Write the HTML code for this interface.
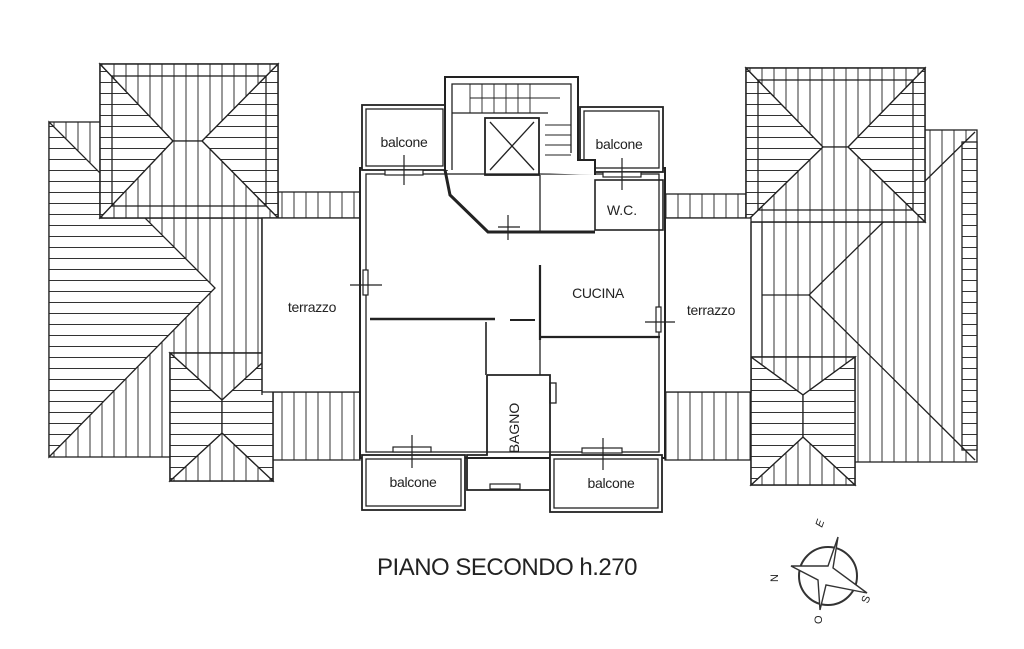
<!DOCTYPE html>
<html><head><meta charset="utf-8"><style>
html,body{margin:0;padding:0;background:#fff;}
svg{display:block}
text{font-family:"Liberation Sans",sans-serif;fill:#222}
</style></head><body>
<svg width="1024" height="649" viewBox="0 0 1024 649" xmlns="http://www.w3.org/2000/svg">
<defs>
<pattern id="h" width="20" height="11" patternUnits="userSpaceOnUse"><rect width="20" height="11" fill="#fff"/><line x1="0" y1="5.5" x2="20" y2="5.5" stroke="#333" stroke-width="1"/></pattern>
<pattern id="v" width="12" height="20" patternUnits="userSpaceOnUse"><rect width="12" height="20" fill="#fff"/><line x1="6" y1="0" x2="6" y2="20" stroke="#333" stroke-width="1"/></pattern>
</defs>
<g stroke="#222" stroke-width="1.3" fill="none">
<rect x="49" y="122" width="213" height="335" fill="url(#v)"/>
<polygon points="49,122 215,288 49,457" fill="url(#h)"/>
<rect x="278" y="192" width="82" height="26" fill="url(#v)"/>
<rect x="272" y="392" width="88" height="68" fill="url(#v)"/>
<rect x="100" y="64" width="178" height="154" fill="#fff"/>
<polygon points="100,64 173,141 100,218" fill="url(#h)"/>
<polygon points="278,64 202,141 278,218" fill="url(#h)"/>
<polygon points="100,64 278,64 202,141 173,141" fill="url(#v)"/>
<polygon points="100,218 278,218 202,141 173,141" fill="url(#v)"/>
<rect x="100" y="64" width="178" height="154"/>
<rect x="112" y="76" width="154" height="130"/>
<rect x="170" y="353" width="103" height="128" fill="#fff"/>
<polygon points="170,353 273,353 222,400" fill="url(#v)"/>
<polygon points="170,481 273,481 222,433" fill="url(#v)"/>
<polygon points="170,353 222,400 222,433 170,481" fill="url(#h)"/>
<polygon points="273,353 222,400 222,433 273,481" fill="url(#h)"/>
<rect x="170" y="353" width="103" height="128"/>
<rect x="762" y="130" width="215" height="332" fill="url(#v)"/>
<rect x="962" y="142" width="15" height="308" fill="url(#h)"/>
<polyline points="975,132 809,295 975,460"/>
<polyline points="762,295 809,295"/>
<rect x="665" y="194" width="81" height="24" fill="url(#v)"/>
<rect x="665" y="392" width="86" height="68" fill="url(#v)"/>
<rect x="746" y="68" width="179" height="154" fill="#fff"/>
<polygon points="746,68 823,147 746,222" fill="url(#h)"/>
<polygon points="925,68 848,147 925,222" fill="url(#h)"/>
<polygon points="746,68 925,68 848,147 823,147" fill="url(#v)"/>
<polygon points="746,222 925,222 848,147 823,147" fill="url(#v)"/>
<rect x="746" y="68" width="179" height="154"/>
<rect x="758" y="80" width="155" height="130"/>
<rect x="751" y="357" width="104" height="128" fill="#fff"/>
<polygon points="751,357 855,357 803,395" fill="url(#v)"/>
<polygon points="751,485 855,485 803,437" fill="url(#v)"/>
<polygon points="751,357 803,395 803,437 751,485" fill="url(#h)"/>
<polygon points="855,357 803,395 803,437 855,485" fill="url(#h)"/>
<rect x="751" y="357" width="104" height="128"/>
<rect x="262" y="218" width="98" height="174" fill="#fff"/>
<rect x="665" y="218" width="86" height="174" fill="#fff"/>
<line x1="262" y1="218" x2="262" y2="395"/>
<line x1="751" y1="222" x2="751" y2="392"/>

<rect x="360" y="168" width="305" height="290" fill="#fff" stroke-width="2"/>
<rect x="366" y="174" width="293" height="278"/>
<rect x="362" y="105" width="85" height="65" fill="#fff" stroke-width="1.8"/>
<rect x="366" y="109" width="77" height="57"/>
<rect x="580" y="107" width="83" height="65" fill="#fff" stroke-width="1.8"/>
<rect x="584" y="111" width="75" height="57"/>
<polyline points="445,170 445,77 578,77 578,160 595,160 595,175" fill="#fff" stroke-width="2"/>
<polyline points="452,170 452,84 571,84 571,153"/>
<line x1="452" y1="113" x2="548" y2="113"/>
<g stroke-width="0.9"><line x1="470" y1="84" x2="470" y2="113"/><line x1="482" y1="84" x2="482" y2="113"/><line x1="494" y1="84" x2="494" y2="113"/><line x1="506" y1="84" x2="506" y2="113"/><line x1="518" y1="84" x2="518" y2="113"/><line x1="530" y1="84" x2="530" y2="113"/>
<line x1="545" y1="125" x2="571" y2="125"/><line x1="545" y1="135" x2="571" y2="135"/><line x1="545" y1="145" x2="571" y2="145"/><line x1="545" y1="155" x2="571" y2="155"/><line x1="470" y1="98" x2="560" y2="98"/></g>
<rect x="485" y="118" width="54" height="57" stroke-width="1.8"/>
<line x1="490" y1="122" x2="534" y2="170"/><line x1="534" y1="122" x2="490" y2="170"/>
<polyline points="445,170 450,195 488,232 595,232" stroke-width="3"/>
<line x1="540" y1="175" x2="540" y2="232"/>
<rect x="595" y="180" width="68" height="50" stroke-width="1.6"/>
<line x1="540" y1="265" x2="540" y2="340" stroke-width="2.2"/>
<line x1="540" y1="337" x2="660" y2="337" stroke-width="2.2"/>
<line x1="540" y1="337" x2="540" y2="375"/>
<line x1="370" y1="319" x2="495" y2="319" stroke-width="2.5"/>
<line x1="486" y1="322" x2="486" y2="375" stroke-width="1.6"/>
<polyline points="487,375 550,375 550,490 467,490 467,455 487,455 487,375" stroke-width="1.8"/>
<rect x="550" y="383" width="6" height="20"/>
<rect x="362" y="455" width="103" height="55" fill="#fff" stroke-width="1.8"/>
<rect x="366" y="459" width="95" height="47"/>
<rect x="550" y="455" width="112" height="57" fill="#fff" stroke-width="1.8"/>
<rect x="554" y="459" width="104" height="49"/>
<g stroke-width="1.2">
<rect x="385" y="170" width="38" height="5" fill="#fff"/><line x1="404" y1="155" x2="404" y2="185"/>
<rect x="603" y="172" width="38" height="5" fill="#fff"/><line x1="622" y1="158" x2="622" y2="190"/>
<rect x="393" y="447" width="38" height="5" fill="#fff"/><line x1="412" y1="435" x2="412" y2="468"/>
<rect x="582" y="448" width="40" height="5" fill="#fff"/><line x1="603" y1="438" x2="603" y2="470"/>
<rect x="490" y="484" width="30" height="5" fill="#fff"/>
<rect x="363" y="270" width="5" height="25" fill="#fff"/><line x1="350" y1="285" x2="382" y2="285"/>
<rect x="656" y="307" width="5" height="25" fill="#fff"/><line x1="645" y1="322" x2="675" y2="322"/>
<line x1="508" y1="215" x2="508" y2="240"/><line x1="498" y1="227" x2="520" y2="227"/>
<line x1="510" y1="320" x2="535" y2="320" stroke-width="2"/>
</g>
</g>
<text x="404" y="147" font-size="14" text-anchor="middle" letter-spacing="-0.3">balcone</text>
<text x="619" y="149" font-size="14" text-anchor="middle" letter-spacing="-0.3">balcone</text>
<text x="622" y="215" font-size="14" text-anchor="middle">W.C.</text>
<text x="598" y="298" font-size="14" text-anchor="middle" letter-spacing="-0.3">CUCINA</text>
<text x="312" y="312" font-size="14" text-anchor="middle" letter-spacing="-0.3">terrazzo</text>
<text x="711" y="315" font-size="14" text-anchor="middle" letter-spacing="-0.3">terrazzo</text>
<text x="413" y="487" font-size="14" text-anchor="middle" letter-spacing="-0.3">balcone</text>
<text x="611" y="488" font-size="14" text-anchor="middle" letter-spacing="-0.3">balcone</text>
<text transform="translate(519,428) rotate(-90)" font-size="14" text-anchor="middle">BAGNO</text>
<text x="507" y="575" font-size="24" text-anchor="middle" letter-spacing="-0.5">PIANO SECONDO h.270</text>
<g stroke="#333" fill="none" stroke-width="1.4">
<circle cx="828" cy="576" r="29" stroke-width="2"/>
<polygon points="838,537 833,568 867,593 826,585 820,610 818,580 791,566 828,566" fill="#fff"/>
</g>
<text transform="translate(822,528) rotate(-70)" font-size="11" font-style="italic">E</text>
<text transform="translate(778,582) rotate(-90)" font-size="11">N</text>
<text transform="translate(868,604) rotate(-70)" font-size="11">S</text>
<text transform="translate(822,624) rotate(-90)" font-size="11">O</text>
</svg>
</body></html>
